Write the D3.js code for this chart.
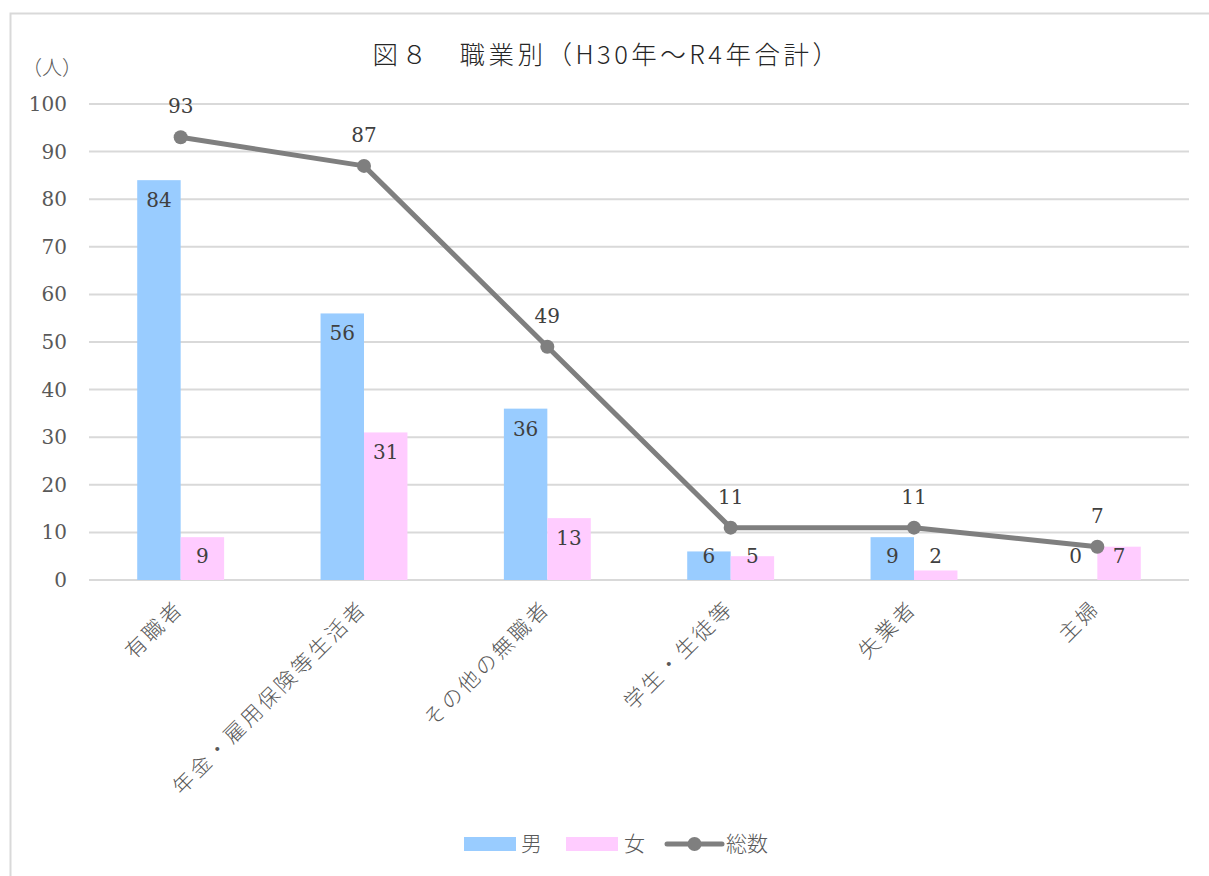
<!DOCTYPE html>
<html><head><meta charset="utf-8">
<script src="https://cdn.jsdelivr.net/npm/d3@7"></script>
<style>body{margin:0;background:#fff}svg{display:block}</style>
</head><body>
<svg id="c" width="1209" height="876"></svg>
<script>
const categories = ["有職者","年金・雇用保険等生活者","その他の無職者","学生・生徒等","失業者","主婦"];
const male = [84,56,36,6,9,0];
const female = [9,31,13,5,2,7];
const total = [93,87,49,11,11,7];
const yTicks = [0,10,20,30,40,50,60,70,80,90,100];
const seriesNames = ["男","女","総数"];
const title = "図８　職業別（H30年～R4年合計）";
const yUnit = "（人）";

const W=1209,H=876;
const svg=d3.select("#c");
const jp = "'Noto Sans CJK JP','Noto Sans',sans-serif";
const num = "'DejaVu Serif',serif";
const txt = "#595959";
const cMale="#99ccff", cFemale="#ffccff", cLine="#7f7f7f";

svg.append("rect").attr("x",10.5).attr("y",13.5).attr("width",1205).attr("height",880)
  .attr("fill","#fff").attr("stroke","#d9d9d9").attr("stroke-width",2);

const m={l:89,r:1189,t:104,b:580};
const x=d3.scaleBand().domain(categories).range([m.l,m.r]).paddingInner(0).paddingOuter(0);
const y=d3.scaleLinear().domain([0,100]).range([m.b,m.t]);
const bw=x.bandwidth()*0.237;

// grid
svg.append("g").selectAll("line").data(yTicks).join("line")
  .attr("x1",m.l).attr("x2",m.r).attr("y1",d=>y(d)).attr("y2",d=>y(d))
  .attr("stroke","#d9d9d9").attr("stroke-width",2);

// y axis labels
const ya=d3.axisLeft(y).tickValues(yTicks).tickSize(0).tickPadding(22);
const yg=svg.append("g").attr("transform",`translate(${m.l},0)`).call(ya);
yg.select(".domain").remove();
yg.selectAll("text").attr("font-family",num).attr("font-size",20).attr("fill",txt);

svg.append("text").attr("x",22).attr("y",75).text(yUnit)
  .attr("font-family",jp).attr("font-size",20).attr("font-weight",300).attr("fill",txt);

svg.append("text").attr("x",607).attr("y",64).attr("text-anchor","middle").text(title)
  .attr("font-family",jp).attr("font-size",25.5).attr("letter-spacing",3.5).attr("font-weight",300).attr("fill","#262626");

const cx=c=>x(c)+x.bandwidth()/2;

// bars
svg.append("g").selectAll("rect").data(categories).join("rect")
  .attr("x",c=>cx(c)-bw).attr("width",bw).attr("y",(c,i)=>y(male[i])).attr("height",(c,i)=>y(0)-y(male[i]))
  .attr("fill",cMale);
svg.append("g").selectAll("rect").data(categories).join("rect")
  .attr("x",c=>cx(c)).attr("width",bw).attr("y",(c,i)=>y(female[i])).attr("height",(c,i)=>y(0)-y(female[i]))
  .attr("fill",cFemale);

const labY=v=>Math.min(y(v)+20,y(0)-24);
svg.append("g").selectAll("text").data(categories).join("text")
  .attr("x",c=>cx(c)-bw/2).attr("y",(c,i)=>labY(male[i])).attr("dy","0.35em").attr("text-anchor","middle")
  .text((c,i)=>male[i]).attr("font-family",num).attr("font-size",20).attr("fill","#404040");
svg.append("g").selectAll("text").data(categories).join("text")
  .attr("x",c=>cx(c)+bw/2).attr("y",(c,i)=>labY(female[i])).attr("dy","0.35em").attr("text-anchor","middle")
  .text((c,i)=>female[i]).attr("font-family",num).attr("font-size",20).attr("fill","#404040");

// line
const line=d3.line().x((d,i)=>cx(categories[i])).y(d=>y(d));
svg.append("path").datum(total).attr("d",line).attr("fill","none").attr("stroke",cLine)
  .attr("stroke-width",5).attr("stroke-linejoin","round");
svg.append("g").selectAll("circle").data(total).join("circle")
  .attr("cx",(d,i)=>cx(categories[i])).attr("cy",d=>y(d)).attr("r",7).attr("fill",cLine);
svg.append("g").selectAll("text").data(total).join("text")
  .attr("x",(d,i)=>cx(categories[i])).attr("y",d=>y(d)-31).attr("dy","0.35em").attr("text-anchor","middle")
  .text(d=>d).attr("font-family",num).attr("font-size",20).attr("fill","#404040");

// x labels
svg.append("g").selectAll("text").data(categories).join("text")
  .attr("transform",c=>`translate(${cx(c)-1},${604}) rotate(-45)`)
  .attr("text-anchor","end").attr("dy","0.35em").text(c=>c)
  .attr("font-family",jp).attr("font-size",21).attr("letter-spacing",3).attr("font-weight",300).attr("fill",txt);

// legend
const lg=svg.append("g");
lg.append("rect").attr("x",464).attr("y",837).attr("width",52).attr("height",14).attr("fill",cMale);
lg.append("rect").attr("x",566).attr("y",837).attr("width",52).attr("height",14).attr("fill",cFemale);
lg.append("line").attr("x1",667).attr("x2",722).attr("y1",844).attr("y2",844).attr("stroke",cLine).attr("stroke-width",5).attr("stroke-linecap","round");
lg.append("circle").attr("cx",694.5).attr("cy",844).attr("r",7).attr("fill",cLine);
const lx=[521,624,726];
lg.selectAll("text.l").data(seriesNames).join("text").attr("class","l")
  .attr("x",(d,i)=>lx[i]).attr("y",844).attr("dy","0.35em").text(d=>d)
  .attr("font-family",jp).attr("font-size",21).attr("font-weight",300).attr("fill",txt);
</script>
</body></html>
